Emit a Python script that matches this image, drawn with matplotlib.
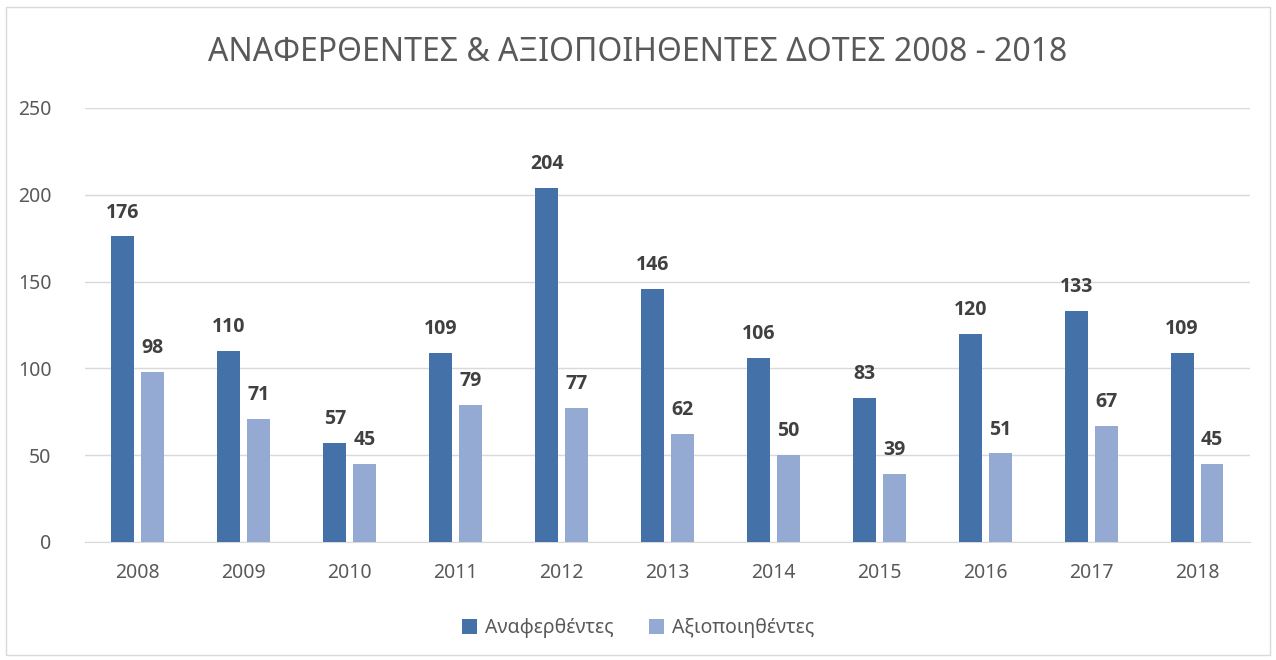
import numpy as np
import matplotlib.pyplot as plt
from matplotlib.patches import Rectangle

plt.rcParams['font.family'] = ['Noto Sans', 'DejaVu Sans']

years = ['2008', '2009', '2010', '2011', '2012', '2013', '2014', '2015', '2016', '2017', '2018']
anaferthentes = [176, 110, 57, 109, 204, 146, 106, 83, 120, 133, 109]
axiopoiithentes = [98, 71, 45, 79, 77, 62, 50, 39, 51, 67, 45]

c_dark = '#4472A8'
c_light = '#95AAD2'
c_text = '#595959'
c_grid = '#D9D9D9'

fig = plt.figure(figsize=(12.76, 6.6), dpi=100)
ax = fig.add_axes([0.0666, 0.1788, 0.913, 0.6576])

x = np.arange(len(years))
w = 0.217
off = 0.1415
b1 = ax.bar(x - off, anaferthentes, w, color=c_dark, label='Αναφερθέντες', zorder=3)
b2 = ax.bar(x + off, axiopoiithentes, w, color=c_light, label='Αξιοποιηθέντες', zorder=3)

for bars in (b1, b2):
    ax.bar_label(bars, padding=10, fontsize=14, fontweight='bold', color='#404040',
                 family=['Open Sans', 'Liberation Sans', 'DejaVu Sans'])

ax.set_xlim(-0.5, len(years) - 0.5)
ax.set_ylim(0, 250)
ax.set_yticks(range(0, 251, 50))
ax.set_xticks(x)
ax.set_xticklabels(years)
ax.tick_params(axis='both', length=0, labelsize=14, labelcolor=c_text)
ax.tick_params(axis='x', pad=15)
ax.tick_params(axis='y', pad=24)
ax.grid(axis='y', color=c_grid, linewidth=1, zorder=0)
for s in ['top', 'right', 'left']:
    ax.spines[s].set_visible(False)
ax.spines['bottom'].set_color(c_grid)

fig.text(0.5, 0.92, 'ΑΝΑΦΕΡΘΕΝΤΕΣ & ΑΞΙΟΠΟΙΗΘΕΝΤΕΣ ΔΟΤΕΣ 2008 - 2018',
         ha='center', va='center', fontsize=23, color=c_text)

fig.legend(handles=[b1, b2], loc='center', bbox_to_anchor=(0.5, 0.048), ncol=2,
           frameon=False, fontsize=14, labelcolor=c_text, handlelength=0.8,
           handleheight=0.8, handletextpad=0.4, columnspacing=1.8)

fig.add_artist(Rectangle((0.005, 0.007), 0.99, 0.982, transform=fig.transFigure,
                         fill=False, edgecolor=c_grid, linewidth=1))

fig.savefig('out.png', dpi=100)
